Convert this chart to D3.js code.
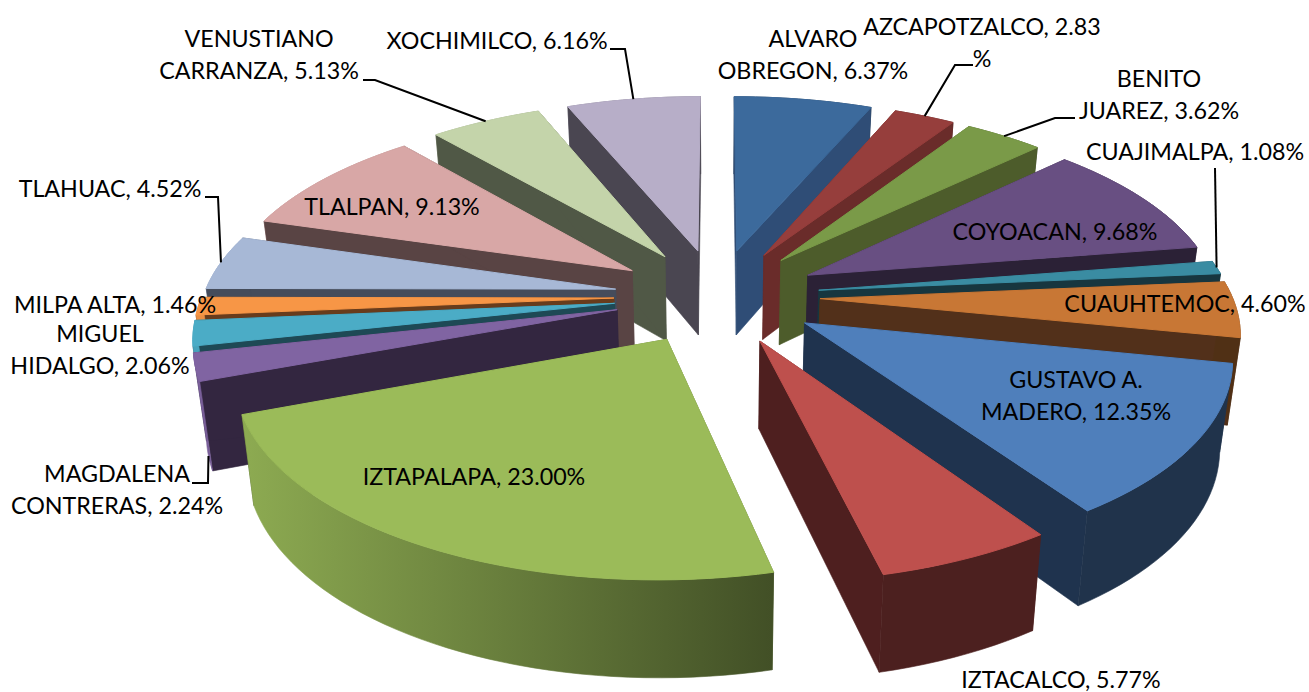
<!DOCTYPE html>
<html lang="en">
<head>
	<meta charset="UTF-8">
	<title>Delegaciones</title>
	<script src="https://cdnjs.cloudflare.com/ajax/libs/d3/7.8.5/d3.min.js"></script>
	<style>
		html, body{
			margin: 0;
			width: 100%;
			height: 100%;
			background: #fff;
			overflow: hidden;
		}
		text{
			font-family: Lato, sans-serif;
			font-size: 24px;
			fill: #000;
		}
	</style>
</head>
<body>
	<div class="pie"></div>
	<script>
		// slices, clockwise from 12 o'clock
		var names = ['ALVARO OBREGON', 'AZCAPOTZALCO', 'BENITO JUAREZ', 'COYOACAN', 'CUAJIMALPA', 'CUAUHTEMOC',
			'GUSTAVO A. MADERO', 'IZTACALCO', 'IZTAPALAPA', 'MAGDALENA CONTRERAS', 'MIGUEL HIDALGO', 'MILPA ALTA',
			'TLAHUAC', 'TLALPAN', 'VENUSTIANO CARRANZA', 'XOCHIMILCO'];
		var values = [6.37, 2.83, 3.62, 9.68, 1.08, 4.60, 12.35, 5.77, 23.00, 2.24, 2.06, 1.46, 4.52, 9.13, 5.13, 6.16];

		var topColors = ['#3c6a9c', '#963e3c', '#7a9a48', '#684f82', '#3a8ca2', '#c87735',
			'#4f7fbb', '#be504d', '#9bbb59', '#8064a2', '#4bacc6', '#f79646',
			'#a7b8d6', '#d8a7a6', '#c4d4aa', '#b7aec8'];
		var wallColors = ['#2f4d76', '#6a2c2a', '#4d5c2b', '#2b2136', '#17363f', '#52301a',
			'#1f334e', '#4e1f1f', '#4a5a2a', '#332640', '#1e4955', '#683c1c',
			'#454c5b', '#594444', '#505846', '#4a4651'];

		// label text lines, one entry per slice
		var labelLines = [['ALVARO', 'OBREGON, 6.37%'], ['AZCAPOTZALCO, 2.83', '%'], ['BENITO', 'JUAREZ, 3.62%'],
			['COYOACAN, 9.68%'], ['CUAJIMALPA, 1.08%'], ['CUAUHTEMOC, 4.60%'],
			['GUSTAVO A.', 'MADERO, 12.35%'], ['IZTACALCO, 5.77%'], ['IZTAPALAPA, 23.00%'],
			['MAGDALENA', 'CONTRERAS, 2.24%'], ['MIGUEL', 'HIDALGO, 2.06%'], ['MILPA ALTA, 1.46%'],
			['TLAHUAC, 4.52%'], ['TLALPAN, 9.13%'], ['VENUSTIANO', 'CARRANZA, 5.13%'], ['XOCHIMILCO, 6.16%']];
		var labelX = [813, 982, 1159, 1055, 1195, 1185, 1076, 1061, 474, 117, 100, 115, 110, 392, 259, 497];
		var labelY = [47, 35, 87, 240, 160, 312, 388, 688, 485, 482, 342, 313, 197, 215, 47, 49];
		var lineGap = 32;

		// leaders: slice index, text side x, elbow x, y, rim depth of the end point
		var leaders = [
			{ i: 1, x0: 973, x1: 955, y: 65, d: 0 },
			{ i: 2, x0: 1075, x1: 1055, y: 118, d: 0 },
			{ i: 4, x0: 1215, x1: 1215, y: 168, d: 0 },
			{ i: 9, x0: 192, x1: 208, y: 483, d: 1 },
			{ i: 12, x0: 205, x1: 218, y: 197, d: 0 },
			{ i: 14, x0: 363, x1: 375, y: 80, d: 0 },
			{ i: 15, x0: 610, x1: 625, y: 49, d: 0 }
		];

		var width = 1309;
		var height = 692;
		var explode = 0.25;
		var persp = 0.15;
		var sink = 0.025;
		var textSquash = 0.97;

		var xScale = d3.scaleLinear().domain([-1, 1]).range([717 - 412, 717 + 412]);
		var yScale = d3.scaleLinear().domain([-1, 1]).range([296 - 190, 296 + 190]);
		var zScale = d3.scaleLinear().domain([0, 1]).range([0, 88]);
		var shade = d3.scaleLinear().domain([200, 800]).range([0.95, 0.40]).clamp(true);

		var pie = d3.pie().sort(null).value(function(d){ return d; });
		var slices = pie(values).map(function(d, i){
			d.mid = (d.startAngle + d.endAngle) / 2;
			d.i = i;
			return d;
		});

		// pie plane -> screen. d is 0 on top face, 1 on the bottom face
		function project(a, slice, r, d){
			var u = r * Math.sin(a) + explode * Math.sin(slice.mid);
			var v = -r * Math.cos(a) - explode * Math.cos(slice.mid);
			var s = (1 - sink * d) / (1 - persp * v);
			return [xScale(u * s), yScale(v * s) + zScale(d) * s];
		}

		function arcAngles(slice){
			var n = Math.max(2, Math.ceil((slice.endAngle - slice.startAngle) * 30));
			return d3.range(n + 1).map(function(k){
				return slice.startAngle + (slice.endAngle - slice.startAngle) * k / n;
			});
		}

		var line = d3.line().curve(d3.curveLinearClosed);

		var svg = d3.select('.pie')
					.append('svg')
					.attr('width', width)
					.attr('height', height)
					.style('display', 'block');
		var defs = svg.append('defs');

		function wallPath(slice, a){
			return line([project(a, slice, 0, 0), project(a, slice, 1, 0), project(a, slice, 1, 1), project(a, slice, 0, 1)]);
		}

		function drawSlice(slice){
			var g = svg.append('g').attr('class', 'slice');
			var top = topColors[slice.i];
			var wall = wallColors[slice.i];
			var angles = arcAngles(slice);
			var id = 'arc' + slice.i;

			var grad = defs.append('linearGradient')
				.attr('id', id)
				.attr('gradientUnits', 'userSpaceOnUse')
				.attr('x1', shade.domain()[0]).attr('x2', shade.domain()[1])
				.attr('y1', 0).attr('y2', 0);
			shade.domain().forEach(function(x, k){
				grad.append('stop')
					.attr('offset', k)
					.attr('stop-color', d3.interpolateRgb('#000', top)(shade(x)));
			});

			var outer = angles.map(function(a){ return project(a, slice, 1, 0); });
			var lower = angles.map(function(a){ return project(a, slice, 1, 1); }).reverse();

			function drawArc(){
				g.append('path').attr('d', line(outer.concat(lower)))
					.attr('fill', 'url(#' + id + ')')
					.attr('stroke', 'url(#' + id + ')')
					.attr('stroke-width', 0.6);
			}
			function drawSides(){
				[slice.startAngle, slice.endAngle].forEach(function(a){
					g.append('path').attr('d', wallPath(slice, a))
						.attr('fill', wall)
						.attr('stroke', wall)
						.attr('stroke-width', 0.6);
				});
			}
			// back of the pie: rim is behind the side walls
			if(Math.cos(slice.mid) > 0){
				drawArc();
				drawSides();
			}else{
				drawSides();
				drawArc();
			}
			g.append('path')
				.attr('d', line([project(slice.mid, slice, 0, 0)].concat(outer)))
				.attr('fill', top)
				.attr('stroke', top)
				.attr('stroke-width', 1);
		}

		// far slices first
		slices.slice().sort(function(a, b){
			return d3.descending(Math.cos(a.mid), Math.cos(b.mid));
		}).forEach(drawSlice);

		// leader lines
		svg.append('g').selectAll('path')
			.data(leaders)
			.enter()
			.append('path')
			.attr('fill', 'none')
			.attr('stroke', '#000')
			.attr('stroke-width', 2)
			.attr('d', function(d){
				var slice = slices[d.i];
				return d3.line()([[d.x0, d.y], [d.x1, d.y], project(slice.mid, slice, 1, d.d)]);
			});

		// labels
		labelLines.forEach(function(lines, i){
			lines.forEach(function(t, k){
				svg.append('text')
					.attr('text-anchor', 'middle')
					.attr('transform', 'translate(' + labelX[i] + ',' + (labelY[i] + k * lineGap) + ') scale(' + textSquash + ',1)')
					.text(t);
			});
		});
	</script>
</body>
</html>
